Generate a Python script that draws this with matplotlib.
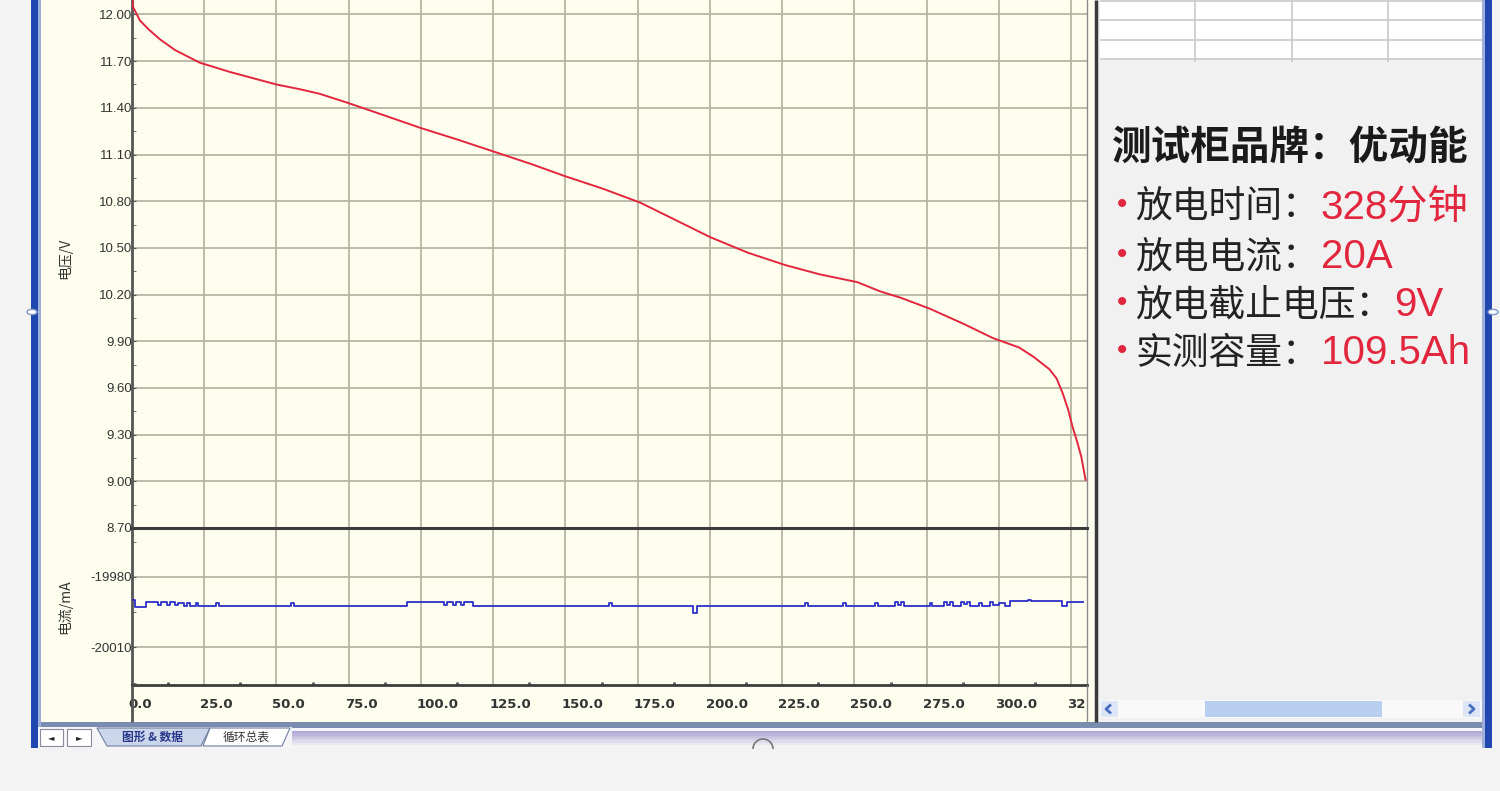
import matplotlib
matplotlib.use("Agg")
import matplotlib.pyplot as plt
from matplotlib.patches import Rectangle, Polygon, Circle, Arc
from matplotlib.lines import Line2D
from matplotlib.ticker import MultipleLocator
from matplotlib.transforms import (Bbox, TransformedBbox, ScaledTranslation,
                                   blended_transform_factory)

plt.rcParams['font.family'] = ['Noto Sans CJK SC', 'DejaVu Sans']

W, H = 1500, 791

# discharge voltage (minutes, volts)
volt_t = [0, 0.3, 2.8, 6, 9.7, 15, 23.5, 34, 44, 50, 58, 65, 75, 86, 100,
          112, 125, 138, 150, 163, 176, 188, 200, 213, 226, 238, 251, 259,
          266, 276, 288, 298, 301, 307, 312, 317.5, 320, 322, 324, 325.5,
          327, 328.5, 330]
volt_v = [12.12, 12.05, 11.96, 11.90, 11.84, 11.77, 11.69, 11.63, 11.58,
          11.55, 11.52, 11.49, 11.43, 11.36, 11.27, 11.20, 11.12, 11.04,
          10.96, 10.88, 10.79, 10.68, 10.57, 10.47, 10.39, 10.33, 10.28,
          10.22, 10.18, 10.11, 10.01, 9.92, 9.90, 9.86, 9.80, 9.72, 9.66,
          9.57, 9.46, 9.35, 9.26, 9.16, 9.01]

# discharge current (minutes, mA), step trace
cur_t = [0, 1, 5, 9, 10, 12, 13, 15, 16, 18, 19, 20, 22, 23, 29, 30, 55, 56,
         95, 108, 109, 111, 112, 114, 115, 118, 165, 166, 194, 195.5, 233,
         234, 246, 247, 257, 258, 264, 265, 266, 267, 276, 277, 281, 282,
         283, 284, 287, 288, 289, 290, 293, 294, 297, 298, 300, 302, 304,
         310, 311, 322, 323.5, 329]
cur_v = [-19989.9, -19992.6, -19990.6, -19992.0, -19990.6, -19991.8,
         -19990.6, -19992.0, -19991.0, -19992.2, -19991.2, -19992.2,
         -19991.0, -19992.2, -19991.0, -19992.2, -19991.0, -19992.2,
         -19990.5, -19992.0, -19990.6, -19992.0, -19990.6, -19991.8,
         -19990.6, -19992.2, -19991.0, -19992.2, -19995.3, -19992.2,
         -19991.2, -19992.2, -19991.0, -19992.2, -19991.2, -19992.2,
         -19990.8, -19991.8, -19990.8, -19992.2, -19991.0, -19992.2,
         -19990.8, -19992.0, -19990.8, -19992.2, -19990.8, -19991.6,
         -19990.8, -19992.2, -19991.0, -19992.2, -19990.8, -19992.0,
         -19991.0, -19992.4, -19990.4, -19989.8, -19990.4, -19992.4,
         -19990.6, -19990.6]

volt_ticks = [8.70, 9.00, 9.30, 9.60, 9.90, 10.20, 10.50, 10.80, 11.10,
              11.40, 11.70, 12.00]
cur_ticks = [-20010, -19980]
time_ticks = [0, 25, 50, 75, 100, 125, 150, 175, 200, 225, 250, 275, 300, 325]

title = "测试柜品牌：优动能"
info_labels = ["放电时间：", "放电电流：", "放电截止电压：", "实测容量："]
info_values = ["328分钟", "20A", "9V", "109.5Ah"]

RED = '#E2263E'
IVORY = '#FEFEEF'
GRID = '#B5B5A2'


def fx(x):
    return x / W


def fy(y):
    return 1 - y / H


fig = plt.figure(figsize=(15, 7.91), dpi=100, facecolor='#F3F3F3')


def rect(x0, y0, x1, y1, color, z=-5, ec='none', lw=0):
    fig.add_artist(Rectangle((fx(x0), fy(y1)), (x1 - x0) / W, (y1 - y0) / H,
                             transform=fig.transFigure, facecolor=color,
                             edgecolor=ec, lw=lw, zorder=z))


def line(xs, ys, color, lw, z=5):
    fig.add_artist(Line2D([fx(x) for x in xs], [fy(y) for y in ys],
                          transform=fig.transFigure, color=color, lw=lw,
                          zorder=z, solid_capstyle='butt'))


# window frame
rect(40, 0, 1097, 722, IVORY)
rect(1097, 0, 1485, 722, '#F1F1F1')
rect(31, 0, 38, 748, '#1F47AF')
rect(38, 0, 41, 748, '#9DB0DA')
rect(1485, 0, 1492, 748, '#1F47AF')
rect(1482, 0, 1485, 748, '#9DB0DA')
for kx in (32, 1493):
    fig.add_artist(Circle((fx(kx), fy(312)), 5 / W, transform=fig.transFigure,
                          facecolor='white', edgecolor='#7F95C8', lw=1,
                          zorder=6))

# bottom tab strip
rect(41, 722, 1482, 728, '#7A8DB0')
rect(41, 728, 1482, 731, '#F4F6FA')
strip = ['#B3A9D6', '#BDB4DB', '#C8C1E0', '#D3CEE6', '#DEDBEC', '#E8E7F1']
for i, c in enumerate(strip):
    rect(41, 731 + 2.3 * i, 1482, 731 + 2.3 * (i + 1), c)
rect(38, 727, 292, 748, '#F6F6F8', z=-4)
for bx0, bx1, sym in ((40, 63, '◄'), (67, 91, '►')):
    rect(bx0, 729, bx1, 746, 'white', z=-3, ec='#8A8A9A', lw=0.8)
    fig.text(fx((bx0 + bx1) / 2), fy(737.5), sym, fontsize=6, ha='center',
             va='center', color='#222', family=['DejaVu Sans'])
tab1 = [(97, 728), (210, 728), (201, 746), (107, 746)]
fig.add_artist(Polygon([(fx(a), fy(b)) for a, b in tab1], closed=True,
                       transform=fig.transFigure, facecolor='#CBD6EA',
                       edgecolor='#6E7E9E', lw=0.8, zorder=-3))
tab2 = [(210, 728), (290, 728), (282, 746), (203, 746)]
fig.add_artist(Polygon([(fx(a), fy(b)) for a, b in tab2], closed=True,
                       transform=fig.transFigure, facecolor='white',
                       edgecolor='#6E7E9E', lw=0.8, zorder=-3))
fig.text(fx(153), fy(737.5), "图形 & 数据", fontsize=8.5, fontweight='bold',
         ha='center', va='center', color='#27358A')
fig.text(fx(246), fy(737.5), "循环总表", fontsize=8.5, ha='center',
         va='center', color='#333')
fig.add_artist(Arc((fx(763), fy(749)), 20 / W, 20 / H, theta1=0, theta2=180,
                   transform=fig.transFigure, color='#777', lw=1.2, zorder=6))

# data table stub at top right
rect(1100, 0, 1482, 60, 'white')
for ty in (1, 20, 40, 59):
    line([1100, 1482], [ty, ty], '#C9C9C9', 1.2, z=-2)
for tx in (1195, 1292, 1388):
    line([tx, tx], [0, 62], '#C9C9C9', 1.2, z=-2)

# scrollbar with chevron buttons
rect(1100, 700, 1482, 718, '#F9F9F9')
rect(1101, 701, 1118, 717, '#DCE6F7')
rect(1463, 701, 1480, 717, '#DCE6F7')
rect(1205, 701, 1382, 717, '#B8CFF2')
line([1111, 1106, 1111], [704.5, 709, 713.5], '#4A6FC0', 2)
line([1469, 1474, 1469], [704.5, 709, 713.5], '#4A6FC0', 2)

# separator lines between chart and panel
line([1096, 1096], [0, 722], '#3A3A3A', 2.5)
line([1087, 1087], [685, 722], '#8A8A8A', 1)
line([132, 132], [685, 722], '#555555', 2)


def style_axes(ax):
    ax.set_facecolor(IVORY)
    ax.grid(True, color=GRID, lw=1.3)
    ax.spines['top'].set_visible(False)
    ax.spines['bottom'].set_color('#3C3C3C')
    ax.spines['bottom'].set_linewidth(2)
    ax.spines['left'].set_color('#555555')
    ax.spines['left'].set_linewidth(2)
    ax.spines['right'].set_color('#8A8A8A')
    ax.spines['right'].set_linewidth(1)
    ax.tick_params(axis='y', which='both', direction='in', length=3,
                   color='#555', pad=0)


# current panel (drawn first so the voltage panel's bottom spine sits on top)
ax2 = fig.add_axes([fx(132), fy(685), (1087 - 132) / W, (685 - 528) / H])
style_axes(ax2)
ax2.plot(cur_t, cur_v, color='#2B2FC8', lw=1.3, drawstyle='steps-post',
         zorder=3)
ax2.set_xlim(0, 330.5)
ax2.set_ylim(-20025.96, -19959.15)
ax2.set_xticks(time_ticks)
ax2.xaxis.set_minor_locator(MultipleLocator(12.5))
ax2.set_yticks(cur_ticks)
ax2.set_yticklabels([str(v) for v in cur_ticks], family=['Liberation Sans'],
                    fontsize=9.5, color='#333')
ax2.yaxis.set_minor_locator(MultipleLocator(15))
ax2.tick_params(axis='x', which='major', length=0, labelbottom=False)
ax2.tick_params(axis='x', which='minor', direction='in', length=2.5, width=2,
                color='#555')
ax2.set_ylabel("电流/mA", fontsize=10, color='#333')
ax2.yaxis.set_label_coords((72 - 132) / (1087 - 132), 0.5)

# voltage panel
ax1 = fig.add_axes([fx(132), fy(528), (1087 - 132) / W, 528 / H], zorder=1)
style_axes(ax1)
ax1.plot(volt_t, volt_v, color=RED, lw=1.4, zorder=3)
ax1.set_xlim(0, 330.5)
ax1.set_ylim(8.70, 12.093)
ax1.set_xticks(time_ticks)
ax1.set_yticks(volt_ticks)
ax1.set_yticklabels([f"{v:.2f}" for v in volt_ticks], family=['Liberation Sans'],
                    fontsize=9.5, color='#333')
ax1.yaxis.set_minor_locator(MultipleLocator(0.15))
ax1.tick_params(axis='x', length=0, labelbottom=False)
ax1.spines['bottom'].set_linewidth(2.2)
ax1.set_ylabel("电压/V", fontsize=10, color='#333')
ax1.yaxis.set_label_coords((72 - 132) / (1087 - 132), 0.51)

# time labels, left aligned at each grid line and clipped at the plot edge
clip = TransformedBbox(Bbox([[fx(40), fy(722)], [fx(1087), fy(685)]]),
                       fig.transFigure)
shift = ScaledTranslation(-4 / 100, 0, fig.dpi_scale_trans)
tr = blended_transform_factory(ax2.transData, fig.transFigure) + shift
for t in time_ticks:
    txt = f"{t:.1f}" if t < 325 else f"{t:.1f}"[:2]
    lbl = fig.text(t, fy(705), txt, transform=tr, ha='left',
                   va='center', fontsize=9.5, fontweight='bold',
                   color='#333', family=['DejaVu Sans'])
    lbl.set_clip_on(True)
    lbl.set_clip_box(clip)

# right info panel
ax0 = fig.add_axes([0, 0, 1, 1], zorder=10)
ax0.set_xlim(0, W)
ax0.set_ylim(H, 0)
ax0.axis('off')
ax0.text(1112, 147, title, fontsize=28.5, fontweight='bold', va='center',
         ha='left', color='#1A1A1A')
labels = []
for i, y in enumerate([205, 255, 303, 351]):
    ax0.text(1122, y, "•", fontsize=20, color=RED, ha='center', va='center',
             family=['DejaVu Sans'])
    labels.append(ax0.text(1135, y + 13, info_labels[i], fontsize=26.5,
                           va='baseline', ha='left', color='#222'))
fig.canvas.draw()
renderer = fig.canvas.get_renderer()
for lab, val in zip(labels, info_values):
    right = ax0.transData.inverted().transform(
        lab.get_window_extent(renderer).corners()[-1])[0]
    ax0.text(right + 2, lab.get_position()[1], val, fontsize=29,
             va='baseline', ha='left', color=RED,
             family=['Liberation Sans', 'Noto Sans CJK SC'])

fig.savefig("out.png", dpi=100, facecolor=fig.get_facecolor())
